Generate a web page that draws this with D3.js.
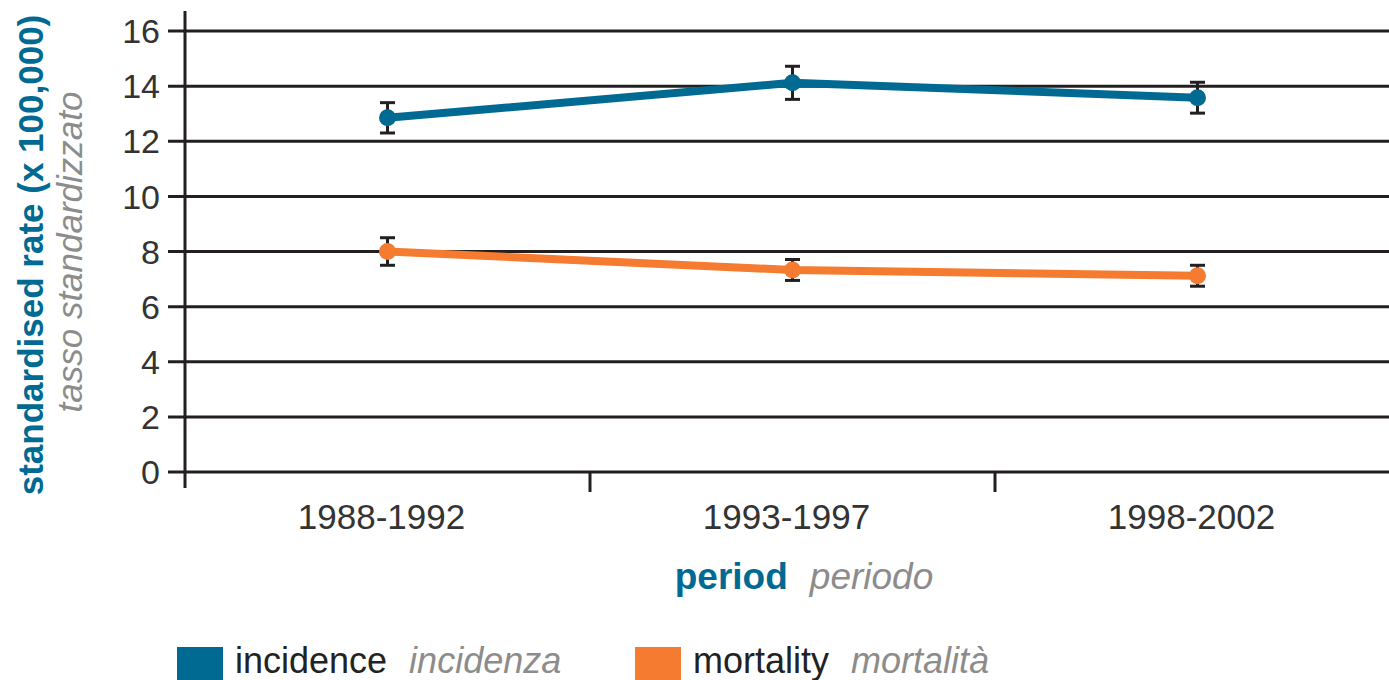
<!DOCTYPE html>
<html>
<head>
<meta charset="utf-8">
<script src="https://cdn.jsdelivr.net/npm/d3@7/dist/d3.min.js"></script>
<style>
  html, body { margin: 0; padding: 0; background: #fff; }
  svg { display: block; font-family: "Liberation Sans", Arial, sans-serif; }
</style>
</head>
<body>
<svg id="chart" width="1389" height="680"></svg>
<script>
// Periods on the x axis
const periods = ["1988-1992", "1993-1997", "1998-2002"];

// Standardised rates (x 100,000) with error-bar half widths
const incidence = [12.85, 14.12, 13.58];
const incidenceErr = [0.55, 0.6, 0.56];
const mortality = [8.0, 7.33, 7.12];
const mortalityErr = [0.5, 0.38, 0.38];

// Y tick values
const yTicks = [0, 2, 4, 6, 8, 10, 12, 14, 16];

const BLUE = "#006a93";
const ORANGE = "#f47b2f";
const INK = "#231f20";
const GREY = "#8c8c8c";

const svg = d3.select("#chart");

const x = d3.scaleBand().domain(periods).range([185, 1400]).padding(0);
const y = d3.scaleLinear().domain([0, 16]).range([472, 31]);
const cx = d => x(d) + x.bandwidth() / 2;

// Horizontal gridlines (the 0 line doubles as the x axis)
svg.append("g")
  .selectAll("line")
  .data(yTicks)
  .join("line")
  .attr("x1", 168).attr("x2", 1389)
  .attr("y1", d => y(d)).attr("y2", d => y(d))
  .attr("stroke", INK).attr("stroke-width", 3);

// Y axis line
svg.append("line")
  .attr("x1", 185).attr("x2", 185)
  .attr("y1", 11).attr("y2", 488)
  .attr("stroke", INK).attr("stroke-width", 3);

// X axis ticks at band boundaries
svg.append("g")
  .selectAll("line")
  .data(periods.slice(1))
  .join("line")
  .attr("x1", d => x(d)).attr("x2", d => x(d))
  .attr("y1", y(0)).attr("y2", y(0) + 20)
  .attr("stroke", INK).attr("stroke-width", 3);

// Y tick labels
svg.append("g")
  .selectAll("text")
  .data(yTicks)
  .join("text")
  .attr("x", 160)
  .attr("y", d => y(d))
  .attr("dy", "0.36em")
  .attr("text-anchor", "end")
  .attr("font-size", 34)
  .attr("fill", "#333")
  .text(d => d);

// X tick labels
svg.append("g")
  .selectAll("text")
  .data(periods)
  .join("text")
  .attr("x", d => cx(d) - 6)
  .attr("y", 529)
  .attr("text-anchor", "middle")
  .attr("font-size", 35)
  .attr("fill", "#333")
  .text(d => d);

// Y axis title (two lines, rotated)
const yTitle = svg.append("g");
yTitle.append("text")
  .attr("transform", "translate(43,255) rotate(-90)")
  .attr("text-anchor", "middle")
  .attr("font-size", 35)
  .attr("font-weight", "bold")
  .attr("fill", BLUE)
  .text("standardised rate (x 100,000)");
yTitle.append("text")
  .attr("transform", "translate(82,252) rotate(-90)")
  .attr("text-anchor", "middle")
  .attr("font-size", 35)
  .attr("font-style", "italic")
  .attr("fill", GREY)
  .text("tasso standardizzato");

// X axis title
const xTitle = svg.append("text")
  .attr("x", 804)
  .attr("y", 589)
  .attr("text-anchor", "middle")
  .attr("font-size", 37);
xTitle.append("tspan").attr("font-weight", "bold").attr("fill", BLUE).text("period");
xTitle.append("tspan").attr("dx", 22).attr("font-style", "italic").attr("fill", GREY).text("periodo");

// Series drawing
const series = [
  { values: incidence, err: incidenceErr, color: BLUE },
  { values: mortality, err: mortalityErr, color: ORANGE }
];

const lineGen = d3.line()
  .x((d, i) => cx(periods[i]))
  .y(d => y(d));

series.forEach(s => {
  const g = svg.append("g");
  const pts = s.values.map((v, i) => ({ p: periods[i], v, e: s.err[i] }));

  // Error bars
  const eb = g.append("g").attr("stroke", INK).attr("stroke-width", 3);
  eb.selectAll("line.v").data(pts).join("line")
    .attr("x1", d => cx(d.p)).attr("x2", d => cx(d.p))
    .attr("y1", d => y(d.v + d.e)).attr("y2", d => y(d.v - d.e));
  eb.selectAll("line.t").data(pts).join("line")
    .attr("x1", d => cx(d.p) - 7.5).attr("x2", d => cx(d.p) + 7.5)
    .attr("y1", d => y(d.v + d.e)).attr("y2", d => y(d.v + d.e));
  eb.selectAll("line.b").data(pts).join("line")
    .attr("x1", d => cx(d.p) - 7.5).attr("x2", d => cx(d.p) + 7.5)
    .attr("y1", d => y(d.v - d.e)).attr("y2", d => y(d.v - d.e));

  // Line
  g.append("path")
    .datum(s.values)
    .attr("d", lineGen)
    .attr("fill", "none")
    .attr("stroke", s.color)
    .attr("stroke-width", 8)
    .attr("stroke-linejoin", "round");

  // Markers
  g.selectAll("circle").data(pts).join("circle")
    .attr("cx", d => cx(d.p))
    .attr("cy", d => y(d.v))
    .attr("r", 8.5)
    .attr("fill", s.color);
});

// Legend
const legendItems = [
  { en: "incidence", it: "incidenza", color: BLUE, x: 177 },
  { en: "mortality", it: "mortalità", color: ORANGE, x: 635 }
];
const legend = svg.append("g");
legendItems.forEach(item => {
  legend.append("rect")
    .attr("x", item.x).attr("y", 647)
    .attr("width", 46).attr("height", 46)
    .attr("fill", item.color);
  const t = legend.append("text")
    .attr("x", item.x + 58)
    .attr("y", 673)
    .attr("font-size", 36);
  t.append("tspan").attr("fill", "#222").text(item.en);
  t.append("tspan").attr("dx", 22).attr("font-style", "italic").attr("fill", GREY).text(item.it);
});
</script>
</body>
</html>
